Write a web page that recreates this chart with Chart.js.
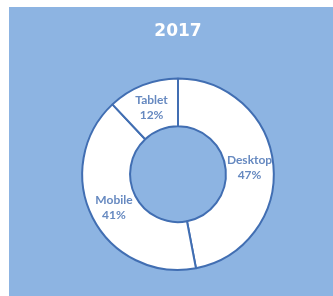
<!DOCTYPE html>
<html>
<head>
<meta charset="utf-8">
<script src="https://cdn.jsdelivr.net/npm/chart.js@4/dist/chart.umd.min.js"></script>
<style>
  html, body { margin: 0; padding: 0; background: #fff; }
  .fondo { position: absolute; left: 9px; top: 7px; width: 324px; height: 289px; background: #8db4e2; }
</style>
</head>
<body>
<div class="fondo"><canvas id="myChart" width="324" height="289"></canvas></div>
<script>
const titulo = "2017"
const categorias = ["Desktop", "Mobile", "Tablet"]
const valores = [47, 41, 12]
const etiquetas = ["47%", "41%", "12%"]

const colorBorde = "#416eb2"
const colorTexto = "#6689c0"

// dibuja nombre y porcentaje en el centro de cada segmento
const etiquetasPlugin = {
    id: "etiquetas",
    afterDatasetsDraw(chart) {
        const ctx = chart.ctx
        const meta = chart.getDatasetMeta(0)
        ctx.save()
        ctx.fillStyle = colorTexto
        ctx.font = "bold 12px Lato"
        ctx.textAlign = "center"
        ctx.textBaseline = "middle"
        meta.data.forEach((arco, i) => {
            const pos = arco.tooltipPosition()
            ctx.fillText(categorias[i], pos.x, pos.y - 7)
            ctx.fillText(etiquetas[i], pos.x, pos.y + 8)
        })
        ctx.restore()
    }
}

const config = {
    type: "doughnut",
    data: {
        labels: categorias,
        datasets: [{
            data: valores,
            backgroundColor: "#ffffff",
            borderColor: colorBorde,
            borderWidth: 2
        }]
    },
    options: {
        responsive: false,
        animation: false,
        cutout: "50%",
        layout: { padding: { left: 14, right: 0, top: 0, bottom: 25 } },
        plugins: {
            legend: { display: false },
            tooltip: { enabled: false },
            title: {
                display: true,
                text: titulo,
                color: "#ffffff",
                font: { family: "DejaVu Sans", size: 17, weight: "bold", lineHeight: 1.2 },
                padding: { top: 14.5, bottom: 35.5 }
            }
        }
    },
    plugins: [etiquetasPlugin]
}

new Chart(document.querySelector("#myChart"), config)
</script>
</body>
</html>
